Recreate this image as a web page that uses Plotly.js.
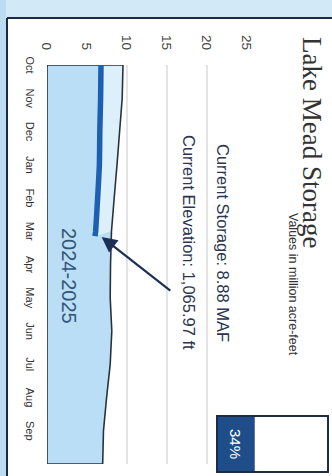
<!DOCTYPE html>
<html>
<head>
<meta charset="utf-8">
<script src="https://cdn.plot.ly/plotly-3.0.1.min.js"></script>
<style>
  html, body { margin: 0; padding: 0; width: 332px; height: 476px; overflow: hidden; background: #ffffff; }
  /* the page is laid out sideways: draw landscape, then turn it a quarter clockwise */
  #chart {
    position: absolute; left: 0; top: 0;
    width: 476px; height: 332px;
    transform-origin: 0 0;
    transform: translate(332px, 0) rotate(90deg);
  }
</style>
</head>
<body>
<div id="chart"></div>
<script>
// Water year months (Oct - Sep)
const months = ['Oct', 'Nov', 'Dec', 'Jan', 'Feb', 'Mar', 'Apr', 'May', 'Jun', 'Jul', 'Aug', 'Sep'];

// Projected storage through the water year (million acre-feet), month index
const projMonth   = [0, 1, 2, 3, 4, 5, 6, 7, 8, 9, 10, 11, 12];
const projStorage = [9.5, 9.4, 9.1, 8.75, 8.4, 8.06, 7.94, 7.9, 8.1, 7.9, 7.45, 7.06, 6.96];

// Observed storage so far this water year
const actualMonth   = [0, 1, 2, 3, 4, 5, 5.15];
const actualStorage = [6.75, 6.7, 6.6, 6.55, 6.33, 6.08, 6.0];

// Current conditions
const currentStorage = 8.88;     // MAF
const currentElevation = 1065.97; // ft
const percentFull = 34;          // %
const waterYear = '2024-2025';

const valueTicks = [0, 5, 10, 15, 20, 25];

const fmtElev = currentElevation.toLocaleString('en-US', {minimumFractionDigits: 2, maximumFractionDigits: 2});

// band between observed line and projection (only over the observed months)
const bandMonth = projMonth.filter(m => m <= 5);
const bandStorage = projStorage.slice(0, bandMonth.length);

const traces = [
  { // projection area
    x: [0].concat(projMonth, [12]),
    y: [0].concat(projStorage, [0]),
    mode: 'lines', fill: 'toself', fillcolor: '#b9def5',
    line: {width: 0, color: 'rgba(0,0,0,0)'}
  },
  { // base of the pale band
    x: actualMonth, y: actualStorage,
    mode: 'lines', line: {width: 0, color: 'rgba(0,0,0,0)'}
  },
  { // pale band above the observed line
    x: bandMonth, y: bandStorage,
    mode: 'lines', fill: 'tonexty', fillcolor: '#dcf0fb',
    line: {width: 0, color: 'rgba(0,0,0,0)'}
  },
  { // outline of the projection area
    x: [0].concat(projMonth, [12, 0]),
    y: [0].concat(projStorage, [0, 0]),
    mode: 'lines', line: {width: 1.6, color: '#27323d'}
  },
  { // observed storage
    x: actualMonth, y: actualStorage,
    mode: 'lines', line: {width: 5.5, color: '#1d5fb0', shape: 'spline', smoothing: 0.4}
  }
];

// gauge geometry (paper coordinates)
const gx0 = 0.8797, gx1 = 1.0201, gy0 = 0.85, gy1 = 1.405;
const gFillTop = gy0 + (percentFull / 100) * (gy1 - gy0);

const frame = '#1b2a42';

const layout = {
  width: 476, height: 332,
  margin: {l: 65, r: 12, t: 85, b: 47, pad: 0},
  paper_bgcolor: '#ffffff', plot_bgcolor: '#ffffff',
  showlegend: false,
  hovermode: false,
  font: {family: '"Liberation Sans", Arial, sans-serif', color: '#333333'},
  xaxis: {
    range: [0, 12], fixedrange: true,
    tickvals: months.map((m, i) => i), ticktext: months,
    ticks: '', showgrid: false, zeroline: false, showline: false,
    tickfont: {size: 11, color: '#333333'},
    ticklabelstandoff: 9
  },
  yaxis: {
    range: [0, 25], fixedrange: true,
    tickvals: valueTicks,
    ticks: '', showgrid: true, gridcolor: '#e4e4e4', gridwidth: 2,
    zeroline: false, showline: false,
    tickfont: {size: 13.5, color: '#444444'},
    ticklabelstandoff: 14
  },
  shapes: [
    // page margin bands and frame
    {type: 'rect', xref: 'paper', yref: 'paper', x0: -0.17, x1: -0.1203, y0: -0.25, y1: 1.43,
     fillcolor: '#d2e9f8', line: {width: 0}, layer: 'below'},
    {type: 'rect', xref: 'paper', yref: 'paper', x0: -0.17, x1: 1.04, y0: -0.25, y1: -0.205,
     fillcolor: '#bcdcf1', line: {width: 0}, layer: 'below'},
    {type: 'line', xref: 'paper', yref: 'paper', x0: -0.1178, x1: -0.1178, y0: 1.43, y1: -0.2,
     line: {color: frame, width: 2}},
    {type: 'line', xref: 'paper', yref: 'paper', x0: -0.1178, x1: 1.04, y0: -0.2, y1: -0.2,
     line: {color: frame, width: 2}},
    // percent-full gauge
    {type: 'rect', xref: 'paper', yref: 'paper', x0: gx0, x1: gx1, y0: gy0, y1: gy1,
     fillcolor: '#ffffff', line: {width: 0}},
    {type: 'rect', xref: 'paper', yref: 'paper', x0: gx0, x1: gx1, y0: gy0, y1: gFillTop,
     fillcolor: '#1f4d89', line: {width: 0}},
    {type: 'rect', xref: 'paper', yref: 'paper', x0: gx0, x1: gx1, y0: gy0, y1: gy1,
     fillcolor: 'rgba(0,0,0,0)', line: {color: '#1c2c48', width: 2}}
  ],
  annotations: [
    {xref: 'paper', yref: 'paper', x: 0.193, y: 1.325, xanchor: 'center', yanchor: 'middle',
     text: 'Lake Mead Storage', showarrow: false,
     font: {family: '"Liberation Serif", "Times New Roman", serif', size: 27, color: '#333333'}},
    {xref: 'paper', yref: 'paper', x: 0.549, y: 1.2325, xanchor: 'center', yanchor: 'middle',
     text: 'Values in million acre-feet', showarrow: false,
     font: {size: 12.5, color: '#333333'}},
    {xref: 'x', yref: 'y', x: 5.34, y: 22.0, xanchor: 'center', yanchor: 'middle',
     text: 'Current Storage: ' + currentStorage.toFixed(2) + ' MAF', showarrow: false,
     font: {size: 16.5, color: '#2a3550'}},
    {xref: 'x', yref: 'y', x: 5.34, y: 17.8, xanchor: 'center', yanchor: 'middle',
     text: 'Current Elevation: ' + fmtElev + ' ft', showarrow: false,
     font: {size: 16.5, color: '#2a3550'}},
    {xref: 'x', yref: 'y', x: 6.35, y: 2.7, xanchor: 'center', yanchor: 'middle',
     text: waterYear, showarrow: false,
     font: {size: 20, color: '#34557a'}},
    {xref: 'x', yref: 'y', x: 5.17, y: 6.83, axref: 'x', ayref: 'y', ax: 6.82, ay: 15.6,
     text: '', showarrow: true, arrowhead: 2, arrowsize: 1.4, arrowwidth: 2.2,
     arrowcolor: '#1d2f55', standoff: 0},
    {xref: 'paper', yref: 'paper', x: (gx0 + gx1) / 2, y: (gy0 + gFillTop) / 2,
     xanchor: 'center', yanchor: 'middle',
     text: percentFull + '%', showarrow: false,
     font: {size: 15, color: '#ffffff'}}
  ]
};

Plotly.newPlot('chart', traces, layout, {staticPlot: true, displayModeBar: false});
</script>
</body>
</html>
